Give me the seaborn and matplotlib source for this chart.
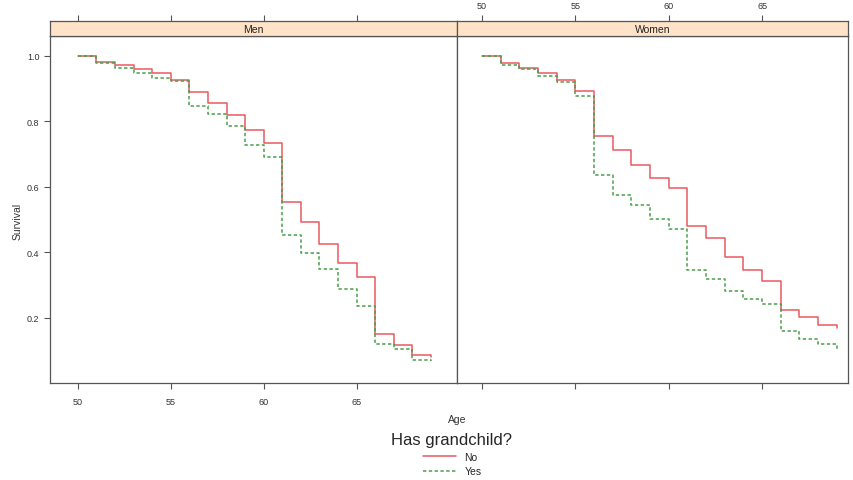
import numpy as np
import pandas as pd
import matplotlib
matplotlib.use("Agg")
import matplotlib.pyplot as plt
import seaborn as sns

# values (step curves, one value per year of age)
ages = [50, 51, 52, 53, 54, 55, 56, 57, 58, 59, 60, 61, 62, 63, 64, 65, 66, 67, 68, 69]
men_no = [1.0, 0.983, 0.973, 0.960, 0.947, 0.926, 0.889, 0.856, 0.818, 0.774, 0.734,
          0.553, 0.493, 0.425, 0.367, 0.323, 0.150, 0.115, 0.085, 0.080]
men_yes = [1.0, 0.979, 0.962, 0.949, 0.933, 0.924, 0.848, 0.822, 0.787, 0.728, 0.690,
           0.452, 0.396, 0.350, 0.286, 0.235, 0.118, 0.103, 0.071, 0.067]
women_no = [1.0, 0.977, 0.963, 0.948, 0.926, 0.894, 0.754, 0.712, 0.667, 0.627, 0.595,
            0.479, 0.443, 0.385, 0.344, 0.312, 0.223, 0.201, 0.177, 0.168]
women_yes = [1.0, 0.973, 0.960, 0.940, 0.921, 0.879, 0.637, 0.576, 0.543, 0.502, 0.471,
             0.347, 0.317, 0.282, 0.256, 0.241, 0.159, 0.134, 0.118, 0.105]
panels = ["Men", "Women"]
groups = ["No", "Yes"]

rows = []
for sex, no, yes in [("Men", men_no, men_yes), ("Women", women_no, women_yes)]:
    for g, vals in [("No", no), ("Yes", yes)]:
        for a, v in zip(ages, vals):
            rows.append({"sex": sex, "grand": g, "age": a, "surv": v})
df = pd.DataFrame(rows)

sns.set_style("white")
plt.rcParams["font.family"] = ["Liberation Sans", "DejaVu Sans"]

W, H = 854, 481
fig = plt.figure(figsize=(W / 100, H / 100), dpi=100)

palette = {"No": "#E95A60", "Yes": "#4A9E4A"}
dashes = {"No": "", "Yes": (2.2, 1.6)}
edge = "#555555"
strip_col = "#FFE3C8"

# panel boxes in pixels: (left, right), shared top / bottom
boxes = [(50, 457, (48.5, 70.4)), (457, 848, (48.66, 69.6))]
top_px, bot_px, strip_top = 37, 384, 22
ylim = (0.0, 1.061)

axes = []
for i, (sex, (l, r, xl)) in enumerate(zip(panels, boxes)):
    ax = fig.add_axes([l / W, (H - bot_px) / H, (r - l) / W, (bot_px - top_px) / H])
    sub = df[df["sex"] == sex]
    sns.lineplot(data=sub, x="age", y="surv", hue="grand", style="grand",
                 palette=palette, dashes=dashes, drawstyle="steps-post",
                 linewidth=1.1, ax=ax, legend=(i == 0))
    ax.set_xlim(xl)
    ax.set_ylim(ylim)
    ax.set_xlabel("")
    ax.set_ylabel("")
    for s in ax.spines.values():
        s.set_color(edge)
        s.set_linewidth(0.9)
    ax.set_xticks([50, 55, 60, 65])
    ax.tick_params(axis="x", direction="out", length=4, color=edge,
                   labelsize=6.5, labelcolor="#333333", pad=6,
                   bottom=True, labelbottom=(i == 0))
    if i == 0:
        ax.set_yticks([0.2, 0.4, 0.6, 0.8, 1.0])
        ax.set_yticklabels(["0.2", "0.4", "0.6", "0.8", "1.0"])
        ax.tick_params(axis="y", direction="out", length=4, color=edge,
                       labelsize=6.5, labelcolor="#333333", left=True)
    else:
        ax.set_yticks([])
    axes.append(ax)

    # strip on top of each panel
    st = fig.add_axes([l / W, (H - top_px) / H, (r - l) / W, (top_px - strip_top) / H])
    st.set_facecolor(strip_col)
    st.set_xlim(xl)
    st.set_yticks([])
    st.set_xticks([50, 55, 60, 65])
    st.xaxis.tick_top()
    st.tick_params(axis="x", direction="out", length=4, color=edge,
                   labelsize=6.5, labelcolor="#333333", pad=4,
                   labeltop=(i == 1), bottom=False)
    for s in st.spines.values():
        s.set_color(edge)
        s.set_linewidth(0.9)
    st.text(0.5, 0.45, sex, transform=st.transAxes, ha="center", va="center",
            fontsize=7.5, color="#222222")

handles, labels = axes[0].get_legend_handles_labels()
axes[0].get_legend().remove()
leg = fig.legend(handles, labels, loc="lower center", bbox_to_anchor=(452 / W, -0.012),
                 frameon=False, title="Has grandchild?", fontsize=7.5,
                 title_fontsize=12, handlelength=3.2, labelspacing=0.45,
                 handletextpad=0.8)

fig.text(457 / W, 1 - 420 / H, "Age", ha="center", va="center", fontsize=7.5, color="#333333")
fig.text(18 / W, 1 - 221 / H, "Survival", ha="center", va="center", rotation=90,
         fontsize=7.5, color="#333333")

fig.savefig("out.png", dpi=100)
